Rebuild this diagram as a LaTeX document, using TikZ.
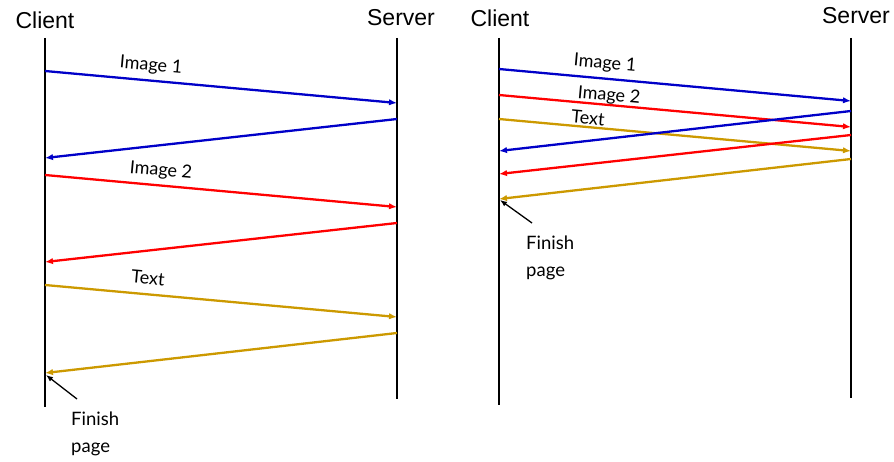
\documentclass[tikz,border=0pt]{standalone}
\usepackage{fontspec}
\setmainfont{Liberation Sans}
\newfontfamily\handfont{Lato}
\usetikzlibrary{arrows.meta}
\definecolor{msgblue}{RGB}{0,0,200}
\definecolor{msgred}{RGB}{255,0,0}
\definecolor{msggold}{RGB}{204,153,0}
\begin{document}
\begin{tikzpicture}[x=1pt,y=-1pt,
  life/.style={line width=2.6pt},
  msg/.style={line width=2.3pt,-{Latex[length=8pt,width=6.5pt]}},
  lbl/.style={font=\handfont\fontsize{18}{18}\selectfont, rotate=-5.2, inner sep=0pt},
  role/.style={font=\fontsize{23}{23}\selectfont, inner sep=0pt},
  note/.style={font=\handfont\fontsize{18.5}{27}\selectfont, align=left, inner sep=0pt, anchor=north west},
  pointer/.style={line width=1.3pt,-{Latex[length=7pt,width=5.5pt]}}
]
\useasboundingbox (0,0) rectangle (894,462);

% ---------- sequential exchange ----------
\node[role] (cl1) at (45,20) {Client};
\node[role] (sv1) at (401,18) {Server};
\coordinate (c1t) at (45,38);  \coordinate (c1b) at (45,407);
\coordinate (s1t) at (397,38); \coordinate (s1b) at (397,399);
\draw[life] (c1t) -- (c1b);
\draw[life] (s1t) -- (s1b);

\coordinate (a1) at (45,71);   \coordinate (a2) at (397,103);
\coordinate (a3) at (397,119); \coordinate (a4) at (45,158);
\coordinate (b1) at (45,175);  \coordinate (b2) at (397,207);
\coordinate (b3) at (397,223); \coordinate (b4) at (45,262);
\coordinate (t1) at (45,285);  \coordinate (t2) at (397,317);
\coordinate (t3) at (397,333); \coordinate (t4) at (45,373);

\draw[msg,msgblue] (a1) -- (a2);
\draw[msg,msgblue] (a3) -- (a4);
\draw[msg,msgred] (b1) -- (b2);
\draw[msg,msgred] (b3) -- (b4);
\draw[msg,msggold] (t1) -- (t2);
\draw[msg,msggold] (t3) -- (t4);

\node[lbl] (la1) at (151,66) {Image 1};
\node[lbl] (lb1) at (161,171) {Image 2};
\node[lbl] (lt1) at (148,278) {Text};

\node[note] (fin1) at (71,412) {Finish\\page};
\coordinate (p1) at (77,399); \coordinate (p1h) at (46,375);
\draw[pointer] (p1) -- (p1h);

% ---------- pipelined exchange ----------
\node[role] (cl2) at (500,18) {Client};
\node[role] (sv2) at (856,16) {Server};
\coordinate (c2t) at (499,38);  \coordinate (c2b) at (499,405);
\coordinate (s2t) at (851,38);  \coordinate (s2b) at (851,398);
\draw[life] (c2t) -- (c2b);
\draw[life] (s2t) -- (s2b);

\coordinate (d1) at (499,69);  \coordinate (d2) at (851,101);
\coordinate (e1) at (499,95);  \coordinate (e2) at (851,127);
\coordinate (g1) at (499,119); \coordinate (g2) at (851,151);
\coordinate (d3) at (851,111); \coordinate (d4) at (499,151);
\coordinate (e3) at (851,135); \coordinate (e4) at (499,174);
\coordinate (g3) at (851,159); \coordinate (g4) at (499,199);

\draw[msg,msgblue] (d1) -- (d2);
\draw[msg,msgred] (e1) -- (e2);
\draw[msg,msggold] (g1) -- (g2);
\draw[msg,msgblue] (d3) -- (d4);
\draw[msg,msgred] (e3) -- (e4);
\draw[msg,msggold] (g3) -- (g4);

\node[lbl] (ld2) at (605,64) {Image 1};
\node[lbl] (le2) at (609,96) {Image 2};
\node[lbl] (lg2) at (588,118) {Text};

\node[note] (fin2) at (526,236) {Finish\\page};
\coordinate (p2) at (532,223); \coordinate (p2h) at (500,200);
\draw[pointer] (p2) -- (p2h);
\end{tikzpicture}
\end{document}
